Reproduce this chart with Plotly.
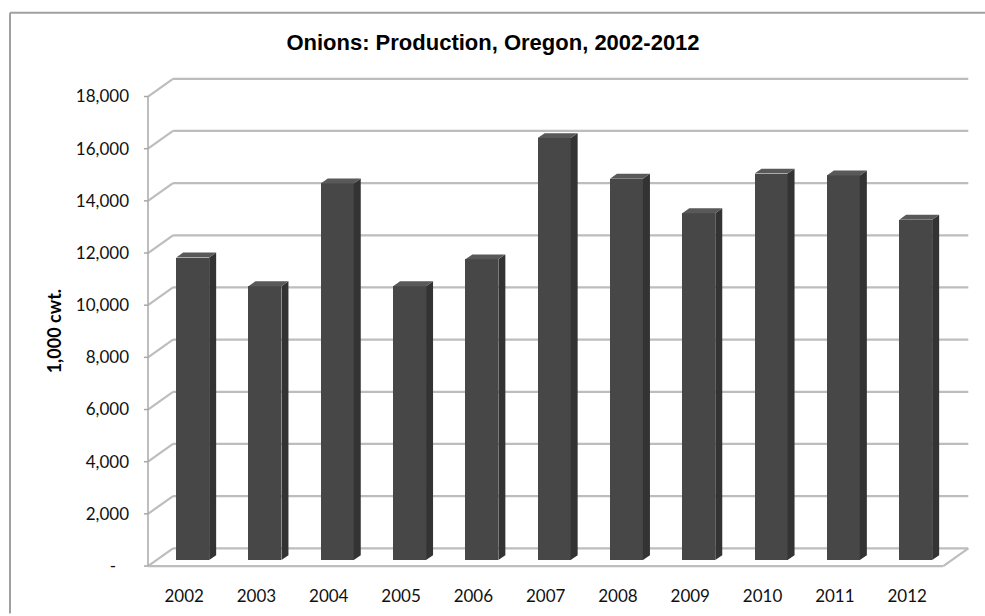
import plotly.graph_objects as go

# ---------------- data ----------------
years = ["2002", "2003", "2004", "2005", "2006", "2007", "2008", "2009", "2010", "2011", "2012"]
production = [11600, 10500, 14440, 10500, 11530, 16180, 14620, 13300, 14820, 14750, 13050]
y_tick_vals = [0, 2000, 4000, 6000, 8000, 10000, 12000, 14000, 16000, 18000]
y_tick_text = ["-\u00a0\u00a0\u00a0", "2,000", "4,000", "6,000", "8,000", "10,000",
               "12,000", "14,000", "16,000", "18,000"]
title_text = "Onions: Production, Oregon, 2002-2012"
y_title = "1,000 cwt."

# ---------------- styling constants ----------------
W, H = 985, 616
ML, MR, MT, MB = 138, 10, 70, 40
PX_X = 72.3          # pixels per category
PX_Y = 0.02645       # pixels per value unit
FRONT_LEFT_PX = 148
FRONT_ZERO_PX = 573

x_min = -0.5 - (FRONT_LEFT_PX - ML) / PX_X
x_max = -0.5 + (W - MR - FRONT_LEFT_PX) / PX_X
y_min = -((H - MB) - FRONT_ZERO_PX) / PX_Y
y_max = (FRONT_ZERO_PX - MT) / PX_Y

DX = 25 / PX_X       # back wall depth offset (x)
DY = 18 / PX_Y       # back wall depth offset (y)
n = len(years)
x_left, x_right = -0.5, n - 0.5
y_top = max(y_tick_vals)

BAR_SHIFT = 8.5 / PX_X
BAR_W = 33 / PX_X
BAR_BASE = 6 / PX_Y
SIDE_DX = 7 / PX_X
SIDE_DY = 5 / PX_Y

GRID = "#bdbdbd"
FRONT_C = "#474747"
SIDE_C = "#333333"
TOP_C = "#595959"
BORDER = "#a0a0a0"

shapes = []
def line(x0, y0, x1, y1, color=GRID, width=2.2):
    shapes.append(dict(type="line", xref="x", yref="y", x0=x0, y0=y0, x1=x1, y1=y1,
                       line=dict(color=color, width=width), layer="below"))

# side-wall diagonals and back-wall gridlines
for v in y_tick_vals:
    line(x_left, v, x_left + DX, v + DY)
    line(x_left + DX, v + DY, x_right + DX, v + DY)
# floor front edge and right edge
line(x_left, 0, x_right, 0)
line(x_right, 0, x_right + DX, DY)
# front value axis and its ticks
line(x_left, 0, x_left, y_top, color="#a8a8a8", width=1.5)
for v in y_tick_vals:
    line(x_left - 4 / PX_X, v, x_left, v, color="#a8a8a8", width=1.5)

# outer chart border (left and top edges only, as in the cropped original)
px2paper_x = lambda p: (p - ML) / (W - ML - MR)
px2paper_y = lambda p: ((H - MB) - p) / (H - MT - MB)
shapes.append(dict(type="line", xref="paper", yref="paper",
                   x0=px2paper_x(10), y0=px2paper_y(12), x1=px2paper_x(10), y1=px2paper_y(H + 5),
                   line=dict(color=BORDER, width=2), layer="above"))
shapes.append(dict(type="line", xref="paper", yref="paper",
                   x0=px2paper_x(10), y0=px2paper_y(12), x1=px2paper_x(W + 5), y1=px2paper_y(12),
                   line=dict(color=BORDER, width=2), layer="above"))

fig = go.Figure()

centers = [i + BAR_SHIFT for i in range(n)]
fig.add_trace(go.Bar(x=centers, y=production, base=BAR_BASE, width=BAR_W,
                     marker=dict(color=FRONT_C, line=dict(width=0)),
                     hoverinfo="skip", showlegend=False))

side_x, side_y, top_x, top_y = [], [], [], []
for c, v in zip(centers, production):
    xl, xr = c - BAR_W / 2, c + BAR_W / 2
    yb, yt = BAR_BASE, BAR_BASE + v
    side_x += [xr, xr + SIDE_DX, xr + SIDE_DX, xr, xr, None]
    side_y += [yb, yb + SIDE_DY, yt + SIDE_DY, yt, yb, None]
    top_x += [xl, xl + SIDE_DX, xr + SIDE_DX, xr, xl, None]
    top_y += [yt, yt + SIDE_DY, yt + SIDE_DY, yt, yt, None]

fig.add_trace(go.Scatter(x=side_x, y=side_y, mode="lines", fill="toself", fillcolor=SIDE_C,
                         line=dict(width=0, color=SIDE_C), hoverinfo="skip", showlegend=False))
fig.add_trace(go.Scatter(x=top_x, y=top_y, mode="lines", fill="toself", fillcolor=TOP_C,
                         line=dict(width=0, color=TOP_C), hoverinfo="skip", showlegend=False))

fig.update_layout(
    width=W, height=H,
    margin=dict(l=ML, r=MR, t=MT, b=MB, pad=0),
    paper_bgcolor="white", plot_bgcolor="white",
    shapes=shapes,
    title=dict(text="<b>" + title_text + "</b>", x=493 / W, xanchor="center",
               y=1 - 42 / H, yanchor="middle", yref="container",
               font=dict(family="Liberation Sans, Arial, sans-serif", size=22, color="#000000")),
    xaxis=dict(range=[x_min, x_max], tickmode="array", tickvals=list(range(n)), ticktext=years,
               showgrid=False, zeroline=False, showline=False, ticks="",
               tickfont=dict(family="Lato, sans-serif", size=17, color="#111111"),
               ticklabelstandoff=15, fixedrange=True),
    yaxis=dict(range=[y_min, y_max], tickmode="array", tickvals=y_tick_vals, ticktext=y_tick_text,
               showgrid=False, zeroline=False, showline=False, ticks="",
               tickfont=dict(family="Lato, sans-serif", size=17, color="#111111"),
               ticklabelstandoff=8, fixedrange=True),
    annotations=[dict(text="<b>" + y_title + "</b>", textangle=-90, xref="paper", yref="paper",
                      x=px2paper_x(54), y=px2paper_y(335), showarrow=False,
                      xanchor="center", yanchor="middle",
                      font=dict(family="Lato, sans-serif", size=18, color="#000000"))],
    bargap=0,
)

fig.write_html("out.html")
